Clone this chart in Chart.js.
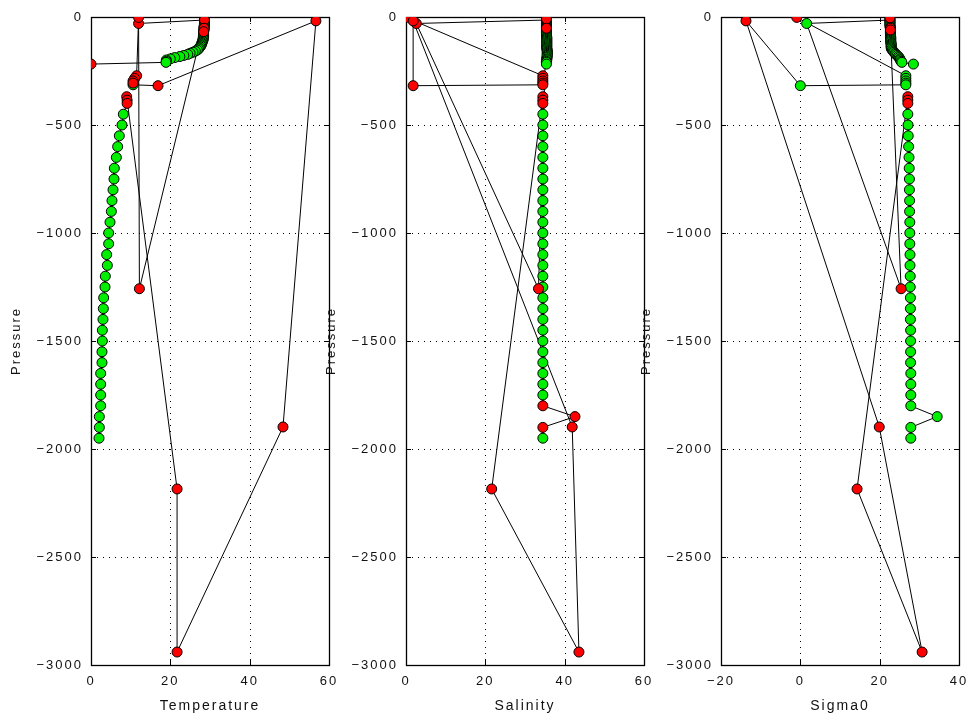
<!DOCTYPE html>
<html><head><meta charset="utf-8">
<script src="https://cdn.jsdelivr.net/npm/chart.js@4.4.0/dist/chart.umd.min.js"></script>
<style>
html,body{margin:0;padding:0;background:#fff;width:972px;height:720px;overflow:hidden;position:relative;}
canvas{position:absolute;top:0;}
</style></head><body>
<canvas id="c1" width="349" height="720" style="left:0px;width:349px;height:720px"></canvas>
<canvas id="c2" width="349" height="720" style="left:315px;width:349px;height:720px"></canvas>
<canvas id="c3" width="349" height="720" style="left:630px;width:349px;height:720px"></canvas>
<script>
// ---- data (profile rows in file order; null = break in the line) ----
const pressure = [
 -4,-9,-14,-30,-1258,-19,-24,-29,-34,-39,-44,-48,-52,-56,-60,-64,-68,-73,-78,-83,-88,-93,-98,-103,-108,-113,-118,-123,-128,-133,-138,-143,-148,-153,-158,-163,-168,-173,-178,-183,-188,-194,-199,-205,-210,-218,
 null,
 -2,-272,-284,-296,-306,-314,-318,-18,-1898,-2940,-2185,-369,-385,-400,
 -450,-500,-550,-600,-650,-700,-750,-800,-850,-900,-950,-1000,-1050,-1100,-1150,-1200,-1250,-1300,-1350,-1400,-1450,-1500,-1550,-1600,-1650,-1700,-1750,-1800,-1850,-1900,-1950];
const temperature = [
 28.6,28.6,28.6,12.0,12.2,28.6,28.6,28.6,28.6,28.6,28.5,28.5,28.5,28.5,28.5,28.4,28.4,28.4,28.4,28.4,28.4,28.3,28.3,28.3,28.2,28.1,28.0,27.9,27.8,27.7,27.5,27.3,27.1,26.8,26.3,25.7,25.0,24.4,23.4,22.4,21.1,20.0,19.0,19.0,18.9,0.0,
 null,
 12.0,11.5,11.0,10.6,10.6,10.6,16.9,56.7,48.4,21.7,21.7,9.0,9.1,9.1,
 8.15,7.81,7.14,6.72,6.39,5.88,5.80,5.55,5.29,5.13,4.79,4.45,4.45,3.95,4.12,3.61,3.53,3.19,3.11,3.02,2.86,2.86,2.77,2.77,2.44,2.44,2.44,2.44,2.10,2.10,2.02];
const salinity = [
 35.4,35.4,35.4,2.6,33.4,35.4,35.4,35.4,35.4,35.4,35.4,35.4,35.4,35.4,35.4,35.4,35.4,35.4,35.4,35.4,35.4,35.5,35.5,35.5,35.5,35.5,35.5,35.5,35.5,35.5,35.5,35.5,35.5,35.6,35.6,35.6,35.6,35.6,35.6,35.6,35.5,35.5,35.5,35.4,35.4,35.4,
 null,
 0.0,34.5,34.5,34.5,34.5,34.5,1.8,1.8,41.9,43.6,21.6,34.5,34.5,34.5,
 34.5,34.5,34.5,34.5,34.5,34.5,34.5,34.5,34.5,34.5,34.5,34.5,34.5,34.5,34.5,34.5,34.5,34.5,34.5,34.5,34.5,34.5,34.5,34.5,34.5,34.5,34.5,34.5,42.6,34.5,34.5];
const sigma0 = [
 22.6,22.6,22.6,1.6,25.4,22.6,22.6,22.6,22.6,22.6,22.6,22.7,22.7,22.7,22.7,22.7,22.7,22.7,22.7,22.7,22.7,22.8,22.8,22.8,22.8,22.8,22.8,22.9,22.9,22.9,22.9,22.9,23.0,23.2,23.4,23.6,23.9,24.1,24.4,24.7,24.9,25.1,25.2,25.4,25.6,28.5,
 null,
 -0.9,26.6,26.6,26.6,26.6,26.6,0.0,-13.7,19.9,30.7,14.3,27.1,27.1,27.1,
 27.1,27.15,27.2,27.3,27.4,27.45,27.5,27.5,27.55,27.55,27.6,27.6,27.6,27.65,27.65,27.7,27.7,27.75,27.75,27.75,27.8,27.8,27.8,27.8,27.85,27.85,27.85,27.85,34.5,27.85,27.85];
// QC flags: 1 = good (green), 4 = bad (red)
const flagTemperature = [
 1,1,4,4,4,1,1,1,1,1,1,1,4,1,1,1,4,1,1,1,1,1,1,1,1,1,1,1,1,1,1,1,1,1,1,1,1,1,1,1,1,1,1,1,1,4,
 null,
 4,4,4,4,4,1,4,4,4,4,4,4,4,4,
 1,1,1,1,1,1,1,1,1,1,1,1,1,1,1,1,1,1,1,1,1,1,1,1,1,1,1,1,1,1,1];
const flagSalinity = [
 1,4,1,4,4,1,1,1,1,1,1,1,4,1,1,1,1,1,1,1,1,1,1,1,1,1,1,1,1,1,1,1,1,1,1,1,1,1,1,1,1,1,1,1,1,1,
 null,
 4,4,4,4,4,4,4,4,4,4,4,4,4,4,
 1,1,1,1,1,1,1,1,1,1,1,1,1,1,1,1,1,1,1,1,1,1,1,1,1,1,1,4,4,4,1];
const flagSigma0 = [
 4,1,1,1,4,1,1,1,1,1,1,1,4,1,4,1,1,1,1,1,1,1,1,1,1,1,1,1,1,1,1,1,1,1,1,1,1,1,1,1,1,1,1,1,1,1,
 null,
 4,1,1,1,1,1,1,4,4,4,4,4,4,4,
 1,1,1,1,1,1,1,1,1,1,1,1,1,1,1,1,1,1,1,1,1,1,1,1,1,1,1,1,1,1,1];
const xRangeTempSal = [0, 60];
const xRangeSigma = [-20, 40];
const xStep = 20;
const yRange = [-3000, 0];
const yStep = 500;
const axisTitles = ['Temperature', 'Salinity', 'Sigma0'];
const yTitle = 'Pressure';

const GOOD = '#00ee00', BAD = '#ff0000';
const FONT = "'Liberation Sans', Arial, sans-serif";

function spacing(chart){ chart.ctx.letterSpacing = '2px'; }

const framePlugin = {
  id: 'frame',
  beforeUpdate: spacing,
  beforeLayout: spacing,
  beforeDraw: spacing,
  beforeDatasetsDraw(chart) {
    const {ctx, chartArea: a, scales: {x, y}} = chart;
    ctx.save();
    ctx.strokeStyle = '#000';
    ctx.lineWidth = 1;
    ctx.setLineDash([1, 5]);
    x.ticks.forEach(t => {
      if (t.value > x.min && t.value < x.max) {
        const px = Math.round(x.getPixelForValue(t.value)) + 0.5;
        ctx.beginPath(); ctx.moveTo(px, a.top); ctx.lineTo(px, a.bottom); ctx.stroke();
      }
    });
    y.ticks.forEach(t => {
      if (t.value > y.min && t.value < y.max) {
        const py = Math.round(y.getPixelForValue(t.value)) + 0.5;
        ctx.beginPath(); ctx.moveTo(a.left, py); ctx.lineTo(a.right, py); ctx.stroke();
      }
    });
    ctx.setLineDash([]);
    ctx.lineWidth = 1.3;
    ctx.strokeRect(Math.round(a.left) + 0.5, Math.round(a.top) + 0.5, Math.round(a.right - a.left), Math.round(a.bottom - a.top));
    ctx.lineWidth = 1;
    const L = 5;
    x.ticks.forEach(t => {
      const px = Math.round(x.getPixelForValue(t.value)) + 0.5;
      ctx.beginPath();
      ctx.moveTo(px, a.bottom); ctx.lineTo(px, a.bottom - L);
      ctx.moveTo(px, a.top); ctx.lineTo(px, a.top + L);
      ctx.stroke();
    });
    y.ticks.forEach(t => {
      const py = Math.round(y.getPixelForValue(t.value)) + 0.5;
      ctx.beginPath();
      ctx.moveTo(a.left, py); ctx.lineTo(a.left + L, py);
      ctx.moveTo(a.right, py); ctx.lineTo(a.right - L, py);
      ctx.stroke();
    });
    ctx.restore();
  }
};

function makePanel(id, values, flags, xr, title) {
  const linePts = pressure.map((p, i) => ({x: values[i], y: p}));
  const goodPts = [], badPts = [];
  pressure.forEach((p, i) => {
    if (p === null) return;
    (flags[i] === 4 ? badPts : goodPts).push({x: values[i], y: p});
  });
  const marker = (color, order) => ({
    data: color === BAD ? badPts : goodPts,
    showLine: false,
    order: order,
    pointRadius: 5,
    pointHoverRadius: 5,
    pointBorderWidth: 1,
    pointBorderColor: '#000',
    pointBackgroundColor: color
  });
  new Chart(document.getElementById(id), {
    type: 'scatter',
    data: {datasets: [
      marker(BAD, 0),
      marker(GOOD, 1),
      {
        data: linePts,
        showLine: true,
        spanGaps: false,
        order: 2,
        borderColor: '#000',
        borderWidth: 1,
        pointRadius: 0,
        pointHoverRadius: 0
      }
    ]},
    options: {
      responsive: false,
      animation: false,
      events: [],
      devicePixelRatio: 1,
      layout: {padding: {top: 17, right: 20, bottom: 0, left: 0}},
      plugins: {legend: {display: false}, tooltip: {enabled: false}},
      scales: {
        x: {
          type: 'linear', min: xr[0], max: xr[1],
          ticks: {stepSize: xStep, color: '#111', padding: 9, font: {family: FONT, size: 13},
                  callback: v => String(v).replace('-', '\u2212')},
          grid: {display: false, drawTicks: false},
          border: {display: false},
          title: {display: true, text: title, color: '#111', font: {family: FONT, size: 14}, padding: {top: 0, bottom: 5}},
          afterFit: s => { s.height = 55; }
        },
        y: {
          type: 'linear', min: yRange[0], max: yRange[1],
          ticks: {stepSize: yStep, color: '#111', padding: 8, font: {family: FONT, size: 13},
                  callback: v => String(v).replace('-', '\u2212')},
          grid: {display: false, drawTicks: false},
          border: {display: false},
          title: {display: true, text: yTitle, color: '#111', font: {family: FONT, size: 13}, padding: {top: 9, bottom: 0}},
          afterFit: s => { s.width = 91; }
        }
      }
    },
    plugins: [framePlugin]
  });
}

makePanel('c1', temperature, flagTemperature, xRangeTempSal, axisTitles[0]);
makePanel('c2', salinity, flagSalinity, xRangeTempSal, axisTitles[1]);
makePanel('c3', sigma0, flagSigma0, xRangeSigma, axisTitles[2]);
</script>
</body></html>
